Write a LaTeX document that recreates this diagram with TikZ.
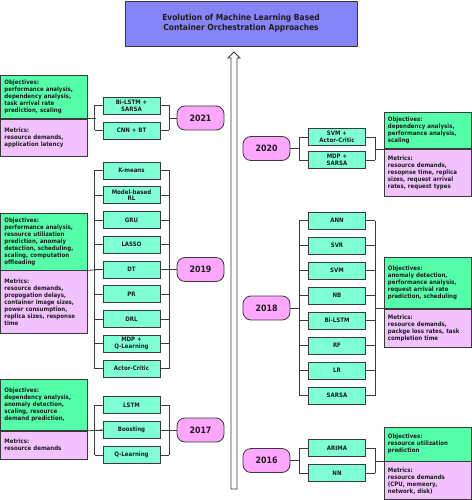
\documentclass[tikz,border=0pt]{standalone}
\usepackage{fontspec}
\setmainfont[FakeStretch=0.9]{DejaVu Sans}
\usetikzlibrary{calc}
\definecolor{objc}{HTML}{55FFAA}
\definecolor{metc}{HTML}{F2C2FF}
\definecolor{mthc}{HTML}{7FFFD4}
\definecolor{yrc}{HTML}{FFA6FF}
\definecolor{ttlc}{HTML}{8585F8}
\definecolor{edgec}{HTML}{3A3A3A}
\definecolor{txtc}{HTML}{1E1E1E}
\tikzset{
 base/.style={draw=edgec, line width=0.8bp, text=txtc, font=\fontsize{6.1}{7}\selectfont\bfseries},
 mth/.style={base, fill=mthc, minimum width=57bp, minimum height=17bp, inner sep=0.5bp, align=center, font=\fontsize{6.1}{6.9}\selectfont\bfseries},
 infol/.style={base, anchor=north west, text width=79bp, inner xsep=3.5bp, inner ysep=1bp, align=left},
 infor/.style={base, anchor=north west, text width=80bp, inner xsep=3.5bp, inner ysep=1bp, align=left},
 yr/.style={base, fill=yrc, rounded corners=8bp, minimum width=47bp, minimum height=24bp, font=\fontsize{8.8}{10}\selectfont\bfseries},
 ttl/.style={base, fill=ttlc, minimum width=232bp, minimum height=45bp, align=center, font=\fontsize{8.4}{10}\selectfont\bfseries},
 conn/.style={draw=edgec, line width=0.8bp},
}
\begin{document}
\begin{tikzpicture}[x=1bp,y=-1bp]
\useasboundingbox (0,0) rectangle (472,500);
% title
\node[ttl] (title) at (241,23.5) {Evolution of Machine Learning Based\\Container Orchestration Approaches};
% central arrow
\coordinate (atip) at (234,52);
\coordinate (abot) at (234,489);
\filldraw[fill=white, draw=edgec, line width=0.8bp]
  ($(abot)+(-3,0)$) -- ($(atip)+(-3,6)$) -- ($(atip)+(-6,6)$) -- (atip) -- ($(atip)+(6,6)$) -- ($(atip)+(3,6)$) -- ($(abot)+(3,0)$) -- cycle;

% ===== 2021 =====
\node[infol, fill=objc, minimum height=43bp] (o21) at (0.5,75) {Objectives:\\performance analysis,\\dependency analysis,\\task arrival rate\\prediction, scaling};
\node[infol, fill=metc, minimum height=37bp] (t21) at (o21.south west) {Metrics:\\resource demands,\\application latency};
\foreach \t [count=\i] in {{Bi-LSTM +\\SARSA}, CNN + BT} {
  \node[mth] (m21-\i) at (131.5,{105.5+25*(\i-1)}) {\t};
  \draw[conn] (m21-\i.west) -- ++(-8,0) (m21-\i.east) -- ++(9,0);
}
\draw[conn] ($(m21-1.west)+(-8,0)$) -- ($(m21-2.west)+(-8,0)$);
\draw[conn] ($(m21-1.east)+(9,0)$) -- ($(m21-2.east)+(9,0)$);
\node[yr] (y21) at (200.5,118) {2021};
\draw[conn] (y21.west) -- ++(-8,0);
\draw[conn] (o21.south east) -- ++(8.5,0);

% ===== 2019 =====
\node[infol, fill=objc, minimum height=56.5bp] (o19) at (0.5,213) {Objectives:\\performance analysis,\\resource utilization\\prediction, anomaly\\detection,\ scheduling,\\scaling, computation\\offloading};
\node[infol, fill=metc, minimum height=62.5bp] (t19) at (o19.south west) {Metrics:\\resource demands,\\propogation delays,\\container image sizes,\\power consumption,\\replica sizes, response\\time};
\foreach \t [count=\i] in {K-means, {Model-based\\RL}, GRU, LASSO, DT, PR, DRL, {MDP +\\Q-Learning}, Actor-Critic} {
  \node[mth] (m19-\i) at (131.5,{170.5+24.75*(\i-1)}) {\t};
  \draw[conn] (m19-\i.west) -- ++(-8,0) (m19-\i.east) -- ++(9,0);
}
\draw[conn] ($(m19-1.west)+(-8,0)$) -- ($(m19-9.west)+(-8,0)$);
\draw[conn] ($(m19-1.east)+(9,0)$) -- ($(m19-9.east)+(9,0)$);
\node[yr] (y19) at (200.5,269.5) {2019};
\draw[conn] (y19.west) -- ++(-8,0);
\draw[conn] (o19.south east) -- (m19-5.west);

% ===== 2017 =====
\node[infol, fill=objc, minimum height=51bp] (o17) at (0.5,379) {Objectives:\\dependency analysis,\\anomaly detection,\\scaling, resource\\demand prediction,};
\node[infol, fill=metc, minimum height=28bp] (t17) at (o17.south west) {Metrics:\\resource demands};
\foreach \t [count=\i] in {LSTM, Boosting, Q-Learning} {
  \node[mth] (m17-\i) at (131.5,{405+25*(\i-1)}) {\t};
  \draw[conn] (m17-\i.west) -- ++(-8,0) (m17-\i.east) -- ++(9,0);
}
\draw[conn] ($(m17-1.west)+(-8,0)$) -- ($(m17-3.west)+(-8,0)$);
\draw[conn] ($(m17-1.east)+(9,0)$) -- ($(m17-3.east)+(9,0)$);
\node[yr] (y17) at (200.5,430) {2017};
\draw[conn] (y17.west) -- ++(-8,0);
\draw[conn] (o17.south east) -- (m17-2.west);

% ===== 2020 =====
\node[infor, fill=objc, minimum height=36.5bp] (o20) at (384,112) {Objectives:\\dependency analysis,\\performance analysis,\\scaling};
\node[infor, fill=metc, minimum height=46.5bp] (t20) at (o20.south west) {Metrics:\\resource demands,\\resopnse time, replica\\sizes, request arrival\\rates, request types};
\foreach \t [count=\i] in {{SVM +\\Actor-Critic}, {MDP +\\SARSA}} {
  \node[mth] (m20-\i) at (337,{137+23*(\i-1)}) {\t};
  \draw[conn] (m20-\i.west) -- ++(-9,0) (m20-\i.east) -- ++(9,0);
}
\draw[conn] ($(m20-1.west)+(-9,0)$) -- ($(m20-2.west)+(-9,0)$);
\draw[conn] ($(m20-1.east)+(9,0)$) -- ($(m20-2.east)+(9,0)$);
\node[yr] (y20) at (266.5,148.5) {2020};
\draw[conn] (y20.east) -- ++(9,0);
\draw[conn] (o20.south west) -- ++(-9,0);

% ===== 2018 =====
\node[infor, fill=objc, minimum height=51bp] (o18) at (384,257) {Objectives:\\anomaly detection,\\performance analysis,\\request arrival rate\\prediction, scheduling};
\node[infor, fill=metc, minimum height=38bp] (t18) at (o18.south west) {Metrics:\\resource demands,\\packge loss rates, task\\completion time};
\foreach \t [count=\i] in {ANN, SVR, SVM, NB, Bi-LSTM, RF, LR, SARSA} {
  \node[mth] (m18-\i) at (337,{220.5+25*(\i-1)}) {\t};
  \draw[conn] (m18-\i.west) -- ++(-9,0) (m18-\i.east) -- ++(9,0);
}
\draw[conn] ($(m18-1.west)+(-9,0)$) -- ($(m18-8.west)+(-9,0)$);
\draw[conn] ($(m18-1.east)+(9,0)$) -- ($(m18-8.east)+(9,0)$);
\node[yr] (y18) at (266.5,308) {2018};
\draw[conn] (y18.east) -- ++(9,0);
\draw[conn] (o18.south west) -- ++(-9,0);

% ===== 2016 =====
\node[infor, fill=objc, minimum height=33.5bp] (o16) at (384,427) {Objectives:\\resource utilization\\prediction};
\node[infor, fill=metc, minimum height=38bp] (t16) at (o16.south west) {Metrics:\\resource demands\\(CPU, memeory,\\network, disk)};
\foreach \t [count=\i] in {ARIMA, NN} {
  \node[mth] (m16-\i) at (337,{448+25*(\i-1)}) {\t};
  \draw[conn] (m16-\i.west) -- ++(-9,0) (m16-\i.east) -- ++(9,0);
}
\draw[conn] ($(m16-1.west)+(-9,0)$) -- ($(m16-2.west)+(-9,0)$);
\draw[conn] ($(m16-1.east)+(9,0)$) -- ($(m16-2.east)+(9,0)$);
\node[yr] (y16) at (266.5,460.5) {2016};
\draw[conn] (y16.east) -- ++(9,0);
\draw[conn] (o16.south west) -- ++(-9,0);
\end{tikzpicture}
\end{document}
